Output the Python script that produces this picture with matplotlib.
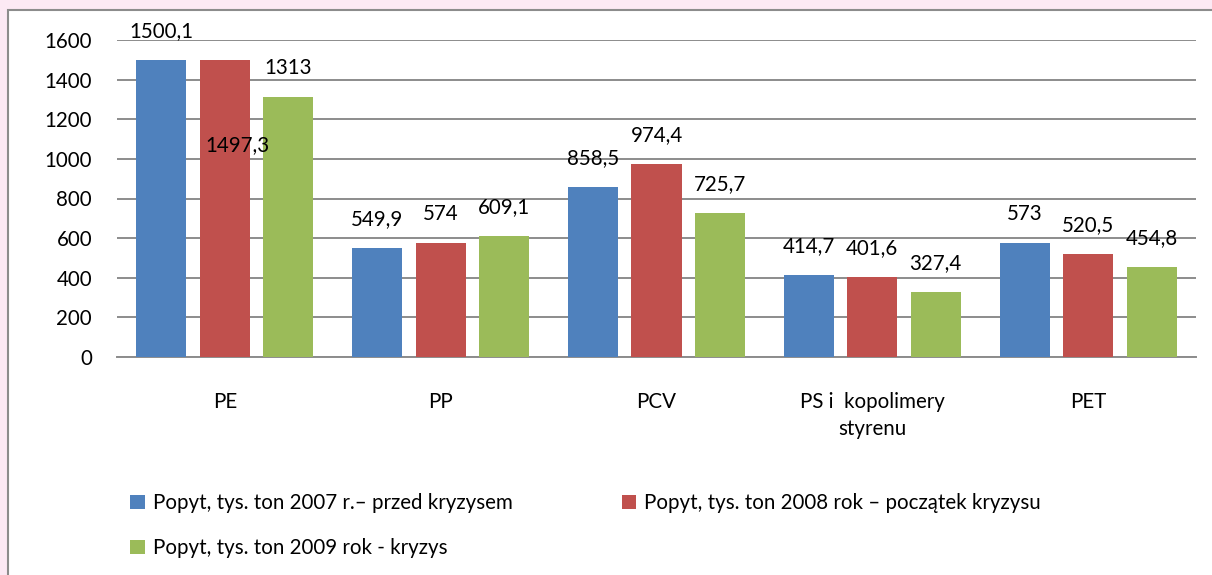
import matplotlib.pyplot as plt
from matplotlib.patches import Rectangle
import numpy as np

plt.rcParams['font.family'] = ['Lato', 'DejaVu Sans']

# data
categories = ['PE', 'PP', 'PCV', 'PS i  kopolimery\nstyrenu', 'PET']
series_names = [
    'Popyt, tys. ton 2007 r.– przed kryzysem',
    'Popyt, tys. ton 2008 rok – początek kryzysu',
    'Popyt, tys. ton 2009 rok - kryzys',
]
demand_2007 = [1500.1, 549.9, 858.5, 414.7, 573]
demand_2008 = [1497.3, 574, 974.4, 401.6, 520.5]
demand_2009 = [1313, 609.1, 725.7, 327.4, 454.8]
label_texts = [
    ['1500,1', '549,9', '858,5', '414,7', '573'],
    ['1497,3', '574', '974,4', '401,6', '520,5'],
    ['1313', '609,1', '725,7', '327,4', '454,8'],
]
colors = ['#4F81BD', '#C0504D', '#9BBB59']

fs = 14.8
fig = plt.figure(figsize=(12.12, 5.75), dpi=100)
fig.patch.set_facecolor('#FCE9F4')

# white chart box with grey border (cut at right/bottom edge)
fig.patches.append(Rectangle((8 / 1212, -0.05), 1.1, 1 - 10 / 575 + 0.05,
                             transform=fig.transFigure, facecolor='white',
                             edgecolor='#8C8C8C', linewidth=1.5, zorder=-5))

ax = fig.add_axes([117 / 1212, 1 - 357 / 575, (1196 - 117) / 1212, (357 - 40) / 575])
ax.set_facecolor('white')

x = np.arange(len(categories))
width = 0.232
offset = 0.294
all_series = [demand_2007, demand_2008, demand_2009]
bars = []
for i, vals in enumerate(all_series):
    b = ax.bar(x + (i - 1) * offset, vals, width, color=colors[i], label=series_names[i], zorder=3)
    bars.append(b)
    for j, v in enumerate(vals):
        dx, dy = 0, 21
        if i == 1 and j == 0:
            dx, dy = 9, -61  # label pushed down next to the bar in the original
        ax.annotate(label_texts[i][j], (x[j] + (i - 1) * offset, v), xytext=(dx, dy),
                    textcoords='offset points', ha='center', va='center',
                    fontsize=fs, zorder=5)

ax.set_xlim(-0.5, 4.5)
ax.set_ylim(0, 1600)
ax.set_yticks(range(0, 1601, 200))
ax.yaxis.grid(True, color='#8C8C8C', linewidth=1.4, zorder=0)
ax.set_axisbelow(True)
for s in ['top', 'right', 'left']:
    ax.spines[s].set_visible(False)
ax.spines['bottom'].set_color('#8C8C8C')
ax.spines['bottom'].set_linewidth(1.4)
ax.tick_params(axis='y', length=0, pad=18, labelsize=fs)
ax.set_xticks(x)
ax.set_xticklabels(categories, fontsize=fs, linespacing=1.45)
ax.tick_params(axis='x', length=0, pad=25)

# column-first fill: order so rows read 2007, 2008 / 2009
order = [0, 2, 1]
fig.legend([bars[k] for k in order], [series_names[k] for k in order],
           loc='upper left', bbox_to_anchor=(122 / 1212, 1 - 485 / 575), ncol=2,
           frameon=False, fontsize=fs, handlelength=0.7, handleheight=0.7,
           handletextpad=0.4, columnspacing=5.3, labelspacing=1.2, borderaxespad=0)

plt.savefig('out.png', dpi=100, facecolor=fig.get_facecolor())
